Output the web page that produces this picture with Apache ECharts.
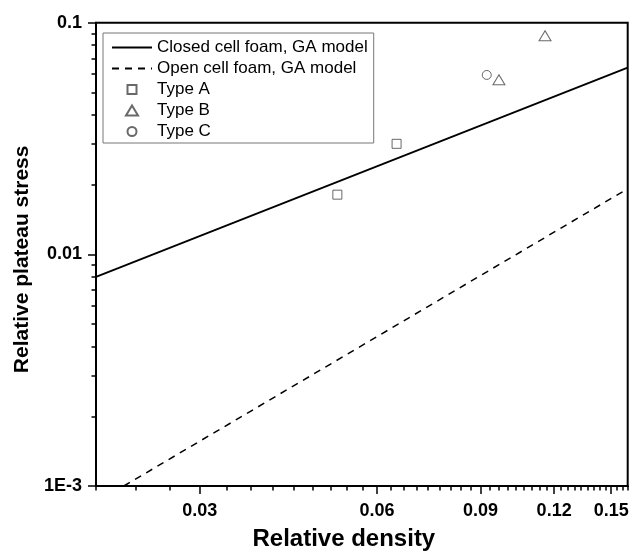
<!DOCTYPE html>
<html><head><meta charset="utf-8">
<script src="https://cdn.jsdelivr.net/npm/echarts@6/dist/echarts.min.js"></script>
<style>html,body{margin:0;padding:0;background:#fff}#c{width:633px;height:556px}</style>
</head><body><div id="c"></div>
<script>
// ---- data ----
const closedX = [0.02, 0.16];
const closedY = [0.0080, 0.0640];
const openX = [0.0223, 0.16];
const openY = [0.0010, 0.0192];
const typeAX = [0.0514, 0.0648];
const typeAY = [0.0181, 0.0300];
const typeBX = [0.0967, 0.1158];
const typeBY = [0.0567, 0.0879];
const typeCX = [0.0922];
const typeCY = [0.0595];
const xTicks = [0.03, 0.06, 0.09, 0.12, 0.15];
const xTickLabels = ['0.03', '0.06', '0.09', '0.12', '0.15'];
const yTicks = [0.001, 0.01, 0.1];
const yTickLabels = ['1E-3', '0.01', '0.1'];
const xMinorStep = 0.03 / 9;
const xRange = [0.02, 0.16];
const yRange = [0.001, 0.1];

const L = Math.log10;
const FONT = "'Liberation Sans', Arial, sans-serif";

const xMinor = [];
for (let k = 0; ; k++) {
  const v = +(xRange[0] + k * xMinorStep).toFixed(6);
  if (v > xRange[1] + 1e-9) break;
  if (!xTicks.some(t => Math.abs(t - v) < 1e-6)) xMinor.push(L(v));
}
const yMinor = [];
for (let e = -3; e < -1; e++) for (let m = 2; m <= 9; m++) yMinor.push(L(m * Math.pow(10, e)));

function pts(xs, ys) { return xs.map((x, i) => [L(x), L(ys[i])]); }
function fmt(ticks, labels) {
  return v => { const i = ticks.findIndex(t => Math.abs(L(t) - v) < 1e-6); return i >= 0 ? labels[i] : ''; };
}

// legend icons: shapes padded into a 14x14 box (degenerate corner points keep the box)
const PAD = 'M0,0L0,0M14,14L14,14';
const ICON_SQUARE = 'path://' + PAD + 'M2.5,2.5L11.5,2.5L11.5,11.5L2.5,11.5Z';
const ICON_TRI = 'path://' + PAD + 'M7,2L13,12L1,12Z';
const ICON_CIRC = 'path://' + PAD + 'M11.5,7A4.5,4.5,0,1,1,2.5,7A4.5,4.5,0,1,1,11.5,7Z';
const hideSym = { color: 'rgba(0,0,0,0)', borderColor: 'rgba(0,0,0,0)', borderWidth: 0 };

const baseX = { type: 'value', min: L(xRange[0]), max: L(xRange[1]), splitLine: { show: false } };
const baseY = { type: 'value', min: L(yRange[0]), max: L(yRange[1]), splitLine: { show: false } };
const line = { show: true, lineStyle: { color: '#000', width: 2 } };
const markStyle = { color: 'rgba(0,0,0,0)', borderColor: '#444', borderWidth: 1 };

const chart = echarts.init(document.getElementById('c'), null, { renderer: 'canvas' });
chart.setOption({
  animation: false,
  backgroundColor: '#fff',
  grid: { left: 96, top: 22.7, right: 5.3, bottom: 68.7, show: true, borderColor: '#000', borderWidth: 2 },
  legend: {
    orient: 'vertical', left: 103, top: 33,
    padding: [6, 6, 3, 8], itemGap: 4, itemWidth: 40, itemHeight: 14,
    borderColor: '#777', borderWidth: 1, backgroundColor: '#fff',
    textStyle: { fontFamily: FONT, fontSize: 17, color: '#000', lineHeight: 17 },
    data: [
      { name: 'Closed cell foam, GA model', itemStyle: hideSym },
      { name: 'Open cell foam, GA model', itemStyle: hideSym },
      { name: 'Type A', icon: ICON_SQUARE },
      { name: 'Type B', icon: ICON_TRI },
      { name: 'Type C', icon: ICON_CIRC }
    ]
  },
  xAxis: [
    Object.assign({}, baseX, {
      position: 'bottom', axisLine: line,
      axisTick: { show: true, length: 8, lineStyle: { color: '#000', width: 1.5 }, customValues: xTicks.map(L) },
      axisLabel: { customValues: xTicks.map(L), formatter: fmt(xTicks, xTickLabels), margin: 16, color: '#000', fontFamily: FONT, fontSize: 18, fontWeight: 'bold' },
      name: 'Relative density', nameLocation: 'middle', nameGap: 41,
      nameTextStyle: { fontFamily: FONT, fontSize: 24, fontWeight: 'bold', color: '#000', padding: [0, 36, 0, 0] }
    }),
    Object.assign({}, baseX, {
      position: 'bottom', axisLine: { show: false },
      axisTick: { show: true, length: 4.5, lineStyle: { color: '#000', width: 1.5 }, customValues: xMinor },
      axisLabel: { show: false }
    })
  ],
  yAxis: [
    Object.assign({}, baseY, {
      position: 'left', axisLine: line,
      axisTick: { show: true, length: 8, lineStyle: { color: '#000', width: 1.5 }, customValues: yTicks.map(L) },
      axisLabel: { customValues: yTicks.map(L), formatter: fmt(yTicks, yTickLabels), margin: 14, color: '#000', fontFamily: FONT, fontSize: 18, fontWeight: 'bold' },
      name: 'Relative plateau stress', nameLocation: 'middle', nameGap: 62,
      nameTextStyle: { fontFamily: FONT, fontSize: 21, fontWeight: 'bold', color: '#000', padding: [0, 10, 0, 0] }
    }),
    Object.assign({}, baseY, {
      position: 'left', axisLine: { show: false },
      axisTick: { show: true, length: 4.5, lineStyle: { color: '#000', width: 1.5 }, customValues: yMinor },
      axisLabel: { show: false }
    })
  ],
  series: [
    { name: 'Closed cell foam, GA model', type: 'line', data: pts(closedX, closedY), symbol: 'none',
      lineStyle: { color: '#000', width: 1.8 }, itemStyle: { color: '#000' } },
    { name: 'Open cell foam, GA model', type: 'line', data: pts(openX, openY), symbol: 'none',
      lineStyle: { color: '#000', width: 1.5, type: [7, 6] }, itemStyle: { color: '#000' } },
    { name: 'Type A', type: 'scatter', data: pts(typeAX, typeAY), symbol: 'rect', symbolSize: 9, itemStyle: markStyle },
    { name: 'Type B', type: 'scatter', data: pts(typeBX, typeBY), symbol: 'triangle', symbolSize: [12, 10], itemStyle: markStyle },
    { name: 'Type C', type: 'scatter', data: pts(typeCX, typeCY), symbol: 'circle', symbolSize: 9, itemStyle: markStyle }
  ]
});
</script></body></html>
